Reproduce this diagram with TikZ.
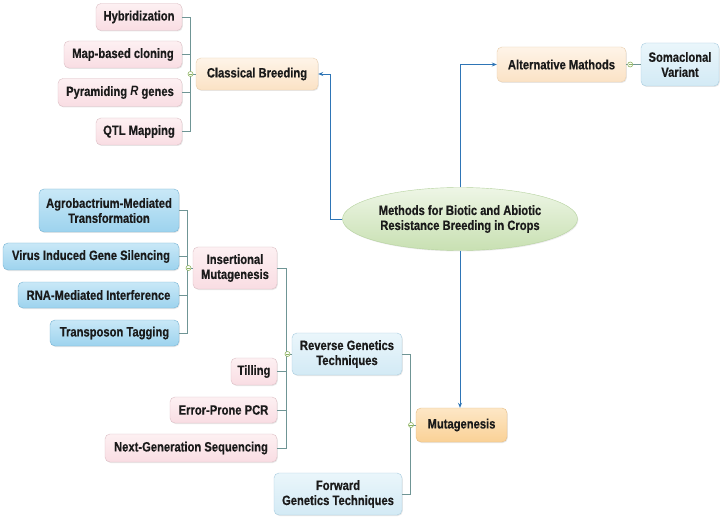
\documentclass[tikz,border=0pt]{standalone}
\usepackage{fontspec}
\setmainfont[FakeStretch=0.83, BoldFeatures={FakeBold=0.5}]{Liberation Sans}
\usetikzlibrary{shapes.geometric,arrows.meta,shadows}
\definecolor{conncol}{HTML}{6F9595}
\definecolor{arrcol}{HTML}{2E75B6}
\definecolor{mrk}{HTML}{8DB360}
\definecolor{txt}{HTML}{1A1A1A}
\definecolor{pinkT}{HTML}{FDF0F2}\definecolor{pinkB}{HTML}{F9DDE3}\definecolor{pinkD}{HTML}{DDBFC5}
\definecolor{peachT}{HTML}{FEF4E8}\definecolor{peachB}{HTML}{FBE2C5}\definecolor{peachD}{HTML}{E9CFAF}
\definecolor{mutT}{HTML}{FDE7C6}\definecolor{mutB}{HTML}{FAD196}\definecolor{mutD}{HTML}{E5BD85}
\definecolor{lbT}{HTML}{EAF6FB}\definecolor{lbB}{HTML}{D3EAF5}\definecolor{lbD}{HTML}{A9CDE0}
\definecolor{dbT}{HTML}{C9E8F7}\definecolor{dbB}{HTML}{9DD3EE}\definecolor{dbD}{HTML}{78B4D4}
\definecolor{elT}{HTML}{EEF6E6}\definecolor{elB}{HTML}{C8E0B2}\definecolor{elD}{HTML}{B5D29E}
\tikzset{
  box/.style={rounded corners=5pt, align=center, inner sep=2pt, font=\fontsize{13.5}{15}\selectfont\bfseries, text=txt,
    drop shadow={shadow xshift=0.8pt, shadow yshift=-1pt, opacity=0.18}},
  pinkbox/.style={box, top color=pinkT, bottom color=pinkB, draw=pinkD},
  peachbox/.style={box, top color=peachT, bottom color=peachB, draw=peachD},
  mutbox/.style={box, top color=mutT, bottom color=mutB, draw=mutD},
  lblue/.style={box, top color=lbT, bottom color=lbB, draw=lbD},
  dblue/.style={box, top color=dbT, bottom color=dbB, draw=dbD},
  rootnode/.style={ellipse, align=center, inner sep=0pt, font=\fontsize{13.5}{15}\selectfont\bfseries, text=txt,
    top color=elT, bottom color=elB, draw=elD,
    drop shadow={shadow xshift=0.8pt, shadow yshift=-1pt, opacity=0.15}},
  conn/.style={draw=conncol, line width=0.6pt},
  arr/.style={draw=arrcol, line width=0.9pt, -{Stealth[length=5pt,width=4pt]}},
  marker/.style={circle, draw=mrk, fill=white, line width=0.6pt, minimum size=5pt, inner sep=0pt,
    path picture={\draw[mrk, line width=0.5pt] ([xshift=-1.6pt]path picture bounding box.center) -- ([xshift=1.6pt]path picture bounding box.center);}},
}
\begin{document}
\begin{tikzpicture}[x=1pt,y=-1pt]
\useasboundingbox[fill=white] (0,0) rectangle (725,521);
% Classical breeding branch
\node[pinkbox, minimum width=86pt, minimum height=27pt] (hyb) at (139,17) {Hybridization};
\node[pinkbox, minimum width=118pt, minimum height=27pt] (map) at (123,54.5) {Map-based cloning};
\node[pinkbox, minimum width=124pt, minimum height=28pt] (pyr) at (120,92.5) {Pyramiding \textit{R} genes};
\node[pinkbox, minimum width=86pt, minimum height=27pt] (qtl) at (139,131.5) {QTL Mapping};
\node[peachbox, minimum width=122pt, minimum height=32pt] (cb) at (257,74) {Classical Breeding};
\coordinate (cbbus) at (190.5,0);
% Alternative
\node[peachbox, minimum width=129pt, minimum height=35pt] (alt) at (561.5,64.5) {Alternative Mathods};
\node[lblue, minimum width=78pt, minimum height=43pt] (som) at (680,64.5) {Somaclonal\\Variant};
% Root
\node[rootnode, minimum width=235pt, minimum height=63pt] (root) at (460,219) {Methods for Biotic and Abiotic\\Resistance Breeding in Crops};
% Insertional
\node[dblue, minimum width=140pt, minimum height=43pt] (agro) at (109,210.5) {Agrobactrium-Mediated\\Transformation};
\node[dblue, minimum width=176pt, minimum height=27pt] (vigs) at (91,256.5) {Virus Induced Gene Silencing};
\node[dblue, minimum width=161pt, minimum height=26pt] (rnai) at (98.5,295) {RNA-Mediated Interference};
\node[dblue, minimum width=129pt, minimum height=26pt] (tt) at (114.5,333) {Transposon Tagging};
\node[pinkbox, minimum width=84pt, minimum height=42pt] (ins) at (235,268) {Insertional\\Mutagenesis};
\coordinate (insbus) at (187,0);
% Reverse genetics
\node[lblue, minimum width=110pt, minimum height=42pt] (rev) at (347,354) {Reverse Genetics\\Techniques};
\node[pinkbox, minimum width=46pt, minimum height=27pt] (til) at (254,371.5) {Tilling};
\node[pinkbox, minimum width=107pt, minimum height=26pt] (epp) at (223.5,410) {Error-Prone PCR};
\node[pinkbox, minimum width=172pt, minimum height=28pt] (ngs) at (191,448) {Next-Generation Sequencing};
\coordinate (revbus) at (286,0);
% Mutagenesis
\node[mutbox, minimum width=91pt, minimum height=34pt] (mut) at (461.5,425) {Mutagenesis};
\node[lblue, minimum width=128pt, minimum height=42pt] (fwd) at (338,494) {Forward\\Genetics Techniques};
\coordinate (mutbus) at (410,0);

% connectors: classical
\draw[conn] (hyb.east) -- (hyb.east -| cbbus) -- (qtl.east -| cbbus) -- (qtl.east);
\draw[conn] (map.east) -- (map.east -| cbbus);
\draw[conn] (pyr.east) -- (pyr.east -| cbbus);
\draw[conn] (cb.west -| cbbus) -- (cb.west);
\node[marker] (m1) at (cb.west -| cbbus) {};
% alternative
\draw[conn] (alt.east) -- (som.west);
\node[marker] (m2) at ([xshift=4pt]alt.east) {};
% insertional
\draw[conn] (agro.east) -- (agro.east -| insbus) -- (tt.east -| insbus) -- (tt.east);
\draw[conn] (vigs.east) -- (vigs.east -| insbus);
\draw[conn] (rnai.east) -- (rnai.east -| insbus);
\draw[conn] (ins.west -| insbus) -- (ins.west);
\node[marker] (m3) at ([xshift=1.5pt]ins.west -| insbus) {};
% reverse
\draw[conn] (ins.east) -- (ins.east -| revbus) -- (ngs.east -| revbus) -- (ngs.east);
\draw[conn] (til.east) -- (til.east -| revbus);
\draw[conn] (epp.east) -- (epp.east -| revbus);
\draw[conn] (rev.west -| revbus) -- (rev.west);
\node[marker] (m4) at ([xshift=1.5pt]rev.west -| revbus) {};
% mutagenesis
\draw[conn] (rev.east) -- (rev.east -| mutbus) -- (fwd.east -| mutbus) -- (fwd.east);
\draw[conn] (mut.west -| mutbus) -- (mut.west);
\node[marker] (m5) at ([xshift=1pt]mut.west -| mutbus) {};
% root arrows
\draw[arr] (root.west) -- (root.west -| 330,0) |- (cb.east);
\draw[arr] (root.north) |- (alt.west);
\draw[arr] (root.south) -- (root.south |- mut.north);
\end{tikzpicture}
\end{document}
